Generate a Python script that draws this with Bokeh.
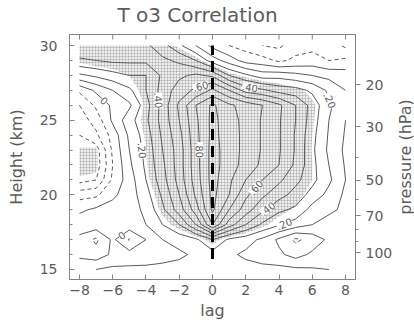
import math
import numpy as np
import contourpy
from bokeh.plotting import figure
from bokeh.models import (ColumnDataSource, LinearAxis, Range1d, SingleIntervalTicker,
                          FixedTicker, CustomJSTickFormatter, Label)
from bokeh.core.properties import value
from bokeh.embed import file_html
from bokeh.resources import INLINE

# ---------------- data ----------------
TITLE = "T o3 Correlation"
LAGS = [-8, -7, -6, -5, -4, -3, -2, -1, 0, 1, 2, 3, 4, 5, 6, 7, 8]
HEIGHTS_KM = [15, 16, 17, 18, 19, 20, 21, 22, 23, 24, 25, 26, 27, 28, 29, 30]

CORR_15 = [0.06, 0.10, 0.12, 0.12, 0.12, 0.13, 0.14, 0.16, 0.16, 0.15, 0.14, 0.13, 0.13, 0.12, 0.11, 0.10, 0.10]
CORR_16 = [-0.02, -0.06, 0.02, 0.04, 0.05, 0.06, 0.08, 0.12, 0.16, 0.12, 0.08, 0.05, 0.02, -0.04, 0.02, 0.05, 0.05]
CORR_17 = [-0.03, -0.12, 0.02, -0.11, 0.00, 0.10, 0.14, 0.18, 0.30, 0.18, 0.14, 0.08, -0.02, -0.12, -0.06, 0.02, 0.04]
CORR_18 = [0.06, 0.06, 0.04, 0.06, 0.10, 0.20, 0.30, 0.50, 0.80, 0.55, 0.40, 0.28, 0.21, 0.15, 0.10, 0.06, 0.04]
CORR_19 = [-0.02, 0.02, 0.04, 0.06, 0.12, 0.28, 0.45, 0.65, 0.92, 0.70, 0.55, 0.42, 0.32, 0.28, 0.16, 0.12, 0.08]
CORR_20 = [-0.14, -0.12, -0.02, 0.05, 0.16, 0.32, 0.50, 0.72, 0.93, 0.80, 0.62, 0.52, 0.44, 0.36, 0.26, 0.17, 0.08]
CORR_21 = [-0.34, -0.30, -0.08, 0.05, 0.20, 0.36, 0.54, 0.75, 0.94, 0.82, 0.70, 0.60, 0.52, 0.43, 0.33, 0.22, 0.10]
CORR_22 = [-0.38, -0.36, -0.10, 0.08, 0.22, 0.38, 0.55, 0.76, 0.94, 0.85, 0.76, 0.68, 0.60, 0.48, 0.33, 0.20, 0.09]
CORR_23 = [-0.36, -0.35, -0.08, 0.10, 0.23, 0.40, 0.55, 0.76, 0.94, 0.85, 0.77, 0.69, 0.61, 0.49, 0.32, 0.18, 0.08]
CORR_24 = [-0.30, -0.22, -0.06, 0.12, 0.25, 0.42, 0.57, 0.77, 0.93, 0.85, 0.77, 0.69, 0.61, 0.49, 0.33, 0.19, 0.09]
CORR_25 = [-0.25, -0.16, 0.02, 0.16, 0.28, 0.44, 0.60, 0.78, 0.93, 0.84, 0.77, 0.69, 0.61, 0.50, 0.35, 0.20, 0.10]
CORR_26 = [-0.20, -0.08, 0.02, 0.08, 0.26, 0.44, 0.62, 0.80, 0.92, 0.82, 0.76, 0.70, 0.62, 0.50, 0.36, 0.22, 0.12]
CORR_27 = [-0.08, 0.02, 0.10, 0.18, 0.30, 0.44, 0.55, 0.62, 0.72, 0.60, 0.46, 0.42, 0.36, 0.34, 0.28, 0.18, 0.10]
CORR_28 = [0.18, 0.22, 0.26, 0.30, 0.30, 0.42, 0.48, 0.52, 0.48, 0.30, 0.22, 0.15, 0.16, 0.13, 0.10, 0.07, 0.05]
CORR_29 = [0.38, 0.40, 0.42, 0.42, 0.42, 0.42, 0.38, 0.30, 0.15, 0.05, -0.04, -0.06, -0.12, -0.08, -0.06, -0.10, -0.08]
CORR_30 = [0.50, 0.50, 0.48, 0.45, 0.42, 0.34, 0.22, 0.10, -0.03, -0.10, -0.14, -0.20, -0.22, -0.14, -0.13, -0.15, -0.22]

# significance level of the correlation at each lag (stippled where exceeded)
SIGNIF_LEVEL = [0.35, 0.33, 0.33, 0.30, 0.23, 0.25, 0.25, 0.25, 0.25, 0.25, 0.25, 0.25, 0.27, 0.30, 0.33, 0.36, 0.38]

CONTOUR_LEVELS = [-0.3, -0.2, -0.1, 0.0, 0.1, 0.2, 0.3, 0.4, 0.5, 0.6, 0.7, 0.8, 0.9]
# labelled contours: (level, approx lag, approx height)
LABELLED = [(0.0, -6.6, 26.2), (0.0, -5.6, 17.5), (0.4, -3.5, 26.3), (0.6, -0.7, 27.2),
            (0.4, 2.3, 27.5), (0.2, -3.9, 23.0), (0.8, 0.4, 23.0), (0.2, 6.8, 26.2),
            (0.6, 2.3, 20.8), (0.4, 3.3, 19.1), (0.2, 4.3, 18.1)]

PRESSURE_MAJOR_HPA = [20, 30, 50, 70, 100]
PRESSURE_MINOR_HPA = [40, 60, 80, 90]
SCALE_HEIGHT_KM = 7.0
LAG_TICKS = [-8, -6, -4, -2, 0, 2, 4, 6, 8]

ZERO_LAG = [0, 0]
ZERO_LAG_HEIGHTS = [15.7, 30.0]

# ---------------- styling ----------------
FONT = "DejaVu Sans"
TXT = "#5c5c5c"
LINE = "#5a5a5a"
AXC = "#858585"
X0, X1 = -8.6, 8.6
Y0, Y1 = 14.33, 30.74
W, H = 414, 327
BL, BR, BT, BB = 69, 59, 34, 48
FRAME_W, FRAME_H = float(W - BL - BR), float(H - BT - BB)

Z = np.array([CORR_15, CORR_16, CORR_17, CORR_18, CORR_19, CORR_20, CORR_21, CORR_22,
              CORR_23, CORR_24, CORR_25, CORR_26, CORR_27, CORR_28, CORR_29, CORR_30], float)
xg = np.array(LAGS, float)
yg = np.array(HEIGHTS_KM, float)
R = Z / np.array(SIGNIF_LEVEL, float)[None, :]

p = figure(width=W, height=H, x_range=Range1d(X0, X1), y_range=Range1d(Y0, Y1),
           output_backend="svg", toolbar_location=None,
           min_border_left=BL, min_border_right=BR, min_border_top=BT, min_border_bottom=BB,
           x_axis_label="lag", y_axis_label="Height (km)")
p.grid.visible = False
p.outline_line_color = AXC
p.background_fill_color = "white"
p.border_fill_color = "white"

# stippling (significant regions)
fgen = contourpy.contour_generator(xg, yg, R, fill_type="OuterOffset", line_type="Separate")
sx, sy = [], []
for lo, hi in [(1.0, 1e6), (-1e6, -1.0)]:
    pts_list, off_list = fgen.filled(lo, hi)
    for pts, offs in zip(pts_list, off_list):
        rings_x, rings_y = [], []
        for i in range(len(offs) - 1):
            ring = pts[offs[i]:offs[i + 1]]
            rings_x.append(list(ring[:, 0]))
            rings_y.append(list(ring[:, 1]))
        sx.append([rings_x])
        sy.append([rings_y])
p.multi_polygons(xs=sx, ys=sy, fill_color="#eeeeee", fill_alpha=1.0, line_color=None,
                 hatch_pattern="+", hatch_scale=3, hatch_weight=0.5, hatch_color="#a4a4a4")

# contour lines
gen = contourpy.contour_generator(xg, yg, Z, line_type="Separate")
all_lines = {}
for lev in CONTOUR_LEVELS:
    segs = gen.lines(lev)
    all_lines[lev] = segs
    xs = [list(s[:, 0]) for s in segs]
    ys = [list(s[:, 1]) for s in segs]
    if not xs:
        continue
    if lev < 0:
        p.multi_line(xs, ys, line_color=LINE, line_width=1, line_dash="4 3")
    else:
        p.multi_line(xs, ys, line_color=LINE, line_width=1)

# zero-lag marker
p.line(ZERO_LAG, ZERO_LAG_HEIGHTS, line_color="black", line_width=3, line_dash="11 6")

# contour labels placed on the computed contour lines
XPX = FRAME_W / (X1 - X0)
YPX = FRAME_H / (Y1 - Y0)
lx, ly, lt, la = [], [], [], []
for lev, ax_, ay_ in LABELLED:
    best = None
    for s in all_lines.get(lev, []):
        P = np.column_stack([s[:, 0] * XPX, s[:, 1] * YPX])
        A = np.array([ax_ * XPX, ay_ * YPX])
        for i in range(len(P) - 1):
            a, b = P[i], P[i + 1]
            d = b - a
            L2 = float(d @ d)
            t = 0.0 if L2 == 0 else max(0.0, min(1.0, float((A - a) @ d) / L2))
            q = a + t * d
            dist = float(np.hypot(*(A - q)))
            if best is None or dist < best[0]:
                best = (dist, q, d)
    if best is None:
        continue
    _, q, d = best
    ang = math.atan2(d[1], d[0])
    if ang > math.pi / 2:
        ang -= math.pi
    elif ang < -math.pi / 2:
        ang += math.pi
    lx.append(q[0] / XPX)
    ly.append(q[1] / YPX)
    lt.append("0" if lev == 0 else ("%.2f" % lev).lstrip("0"))
    la.append(ang)
src = ColumnDataSource(dict(x=lx, y=ly, text=lt, angle=la))
p.text(x="x", y="y", text="text", angle="angle", source=src,
       text_font=value(FONT), text_font_size="10px", text_color=TXT,
       text_align="center", text_baseline="middle", background_fill_color="white")

# top-edge ticks (same positions as the lag axis)
tick_len = 5.0 / YPX
p.segment(x0=LAG_TICKS, y0=[Y1] * len(LAG_TICKS), x1=LAG_TICKS,
          y1=[Y1 - tick_len] * len(LAG_TICKS), line_color=AXC, line_width=1)

# axes
xa = p.xaxis[0]
xa.ticker = SingleIntervalTicker(interval=2, num_minor_ticks=0)
ya = p.yaxis[0]
ya.ticker = SingleIntervalTicker(interval=5, num_minor_ticks=5)
for ax in (xa, ya):
    ax.axis_line_color = AXC
    ax.major_tick_line_color = AXC
    ax.minor_tick_line_color = AXC
    ax.major_tick_in = 5
    ax.major_tick_out = 0
    ax.minor_tick_in = 3
    ax.minor_tick_out = 0
    ax.major_label_text_font = FONT
    ax.major_label_text_font_size = "14px"
    ax.major_label_text_color = TXT
    ax.axis_label_text_font = FONT
    ax.axis_label_text_font_size = "16px"
    ax.axis_label_text_font_style = "normal"
    ax.axis_label_text_color = TXT
xa.major_label_standoff = 5
xa.axis_label_standoff = 3
ya.major_label_standoff = 12
ya.axis_label_standoff = 11

pt = [SCALE_HEIGHT_KM * math.log(1000.0 / v) for v in PRESSURE_MAJOR_HPA]
pm = [SCALE_HEIGHT_KM * math.log(1000.0 / v) for v in PRESSURE_MINOR_HPA]
rax = LinearAxis(ticker=FixedTicker(ticks=pt, minor_ticks=pm),
                 formatter=CustomJSTickFormatter(args=dict(h=SCALE_HEIGHT_KM),
                                                 code="return Math.round(1000*Math.exp(-tick/h)).toString();"),
                 axis_line_color=AXC, major_tick_line_color=AXC, minor_tick_line_color=AXC,
                 major_tick_in=0, major_tick_out=5, minor_tick_in=0, minor_tick_out=3,
                 major_label_standoff=5,
                 major_label_text_font=FONT, major_label_text_font_size="14px",
                 major_label_text_color=TXT)
p.add_layout(rax, "right")

# right-hand axis title, reading bottom-to-top like the left one (own side panel)
p.add_layout(Label(x=10, y=FRAME_H / 2, x_units="screen", y_units="screen",
                   text="pressure (hPa)", angle=math.pi / 2, text_align="center",
                   text_baseline="middle", text_font=FONT, text_font_size="16px",
                   text_color=TXT), "right")

# chart title in its own top panel
p.title.text = ""
p.title.visible = False
p.add_layout(Label(x=128, y=20, x_units="screen", y_units="screen",
                   text=TITLE, text_align="center", text_baseline="middle",
                   text_font=FONT, text_font_size="20px", text_color=TXT), "above")

open("out.html", "w").write(file_html(p, INLINE))
